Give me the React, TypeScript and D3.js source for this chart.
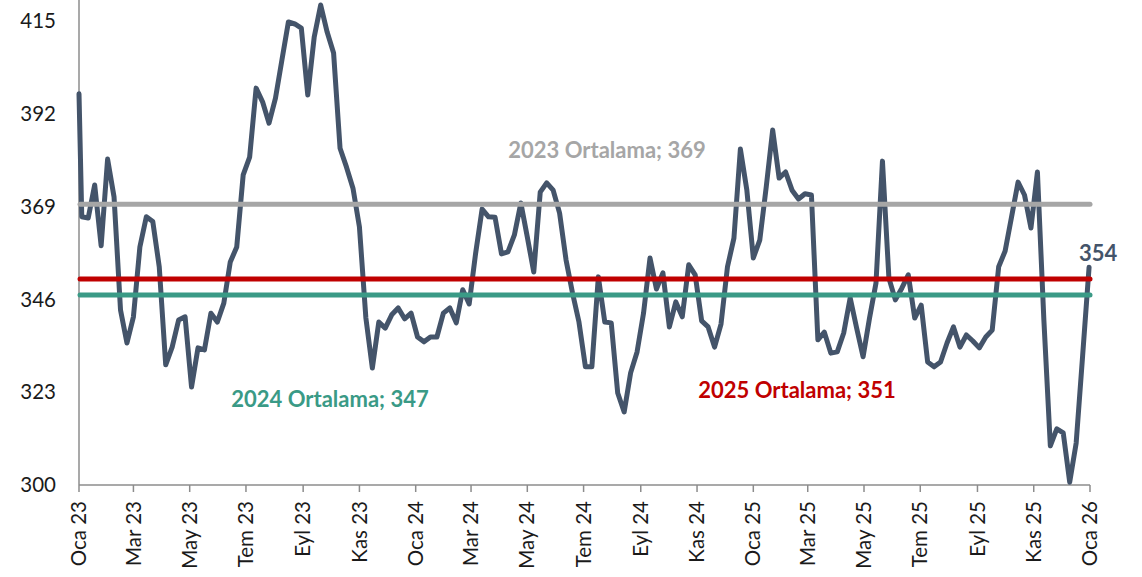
import React, { useEffect, useRef } from "react";
import * as d3 from "d3";

// weekly series
const values = [
  397, 366.5, 366.2, 374.4, 359.3, 380.8, 371.4, 343.4, 335.2, 341.7,
  359.0, 366.5, 365.3, 354.1, 329.8, 334.2, 340.9, 341.7, 324.3, 334.0,
  333.5, 342.6, 340.4, 345.1, 355.3, 359.0, 376.9, 381.3, 398.4, 395.0,
  389.7, 395.9, 405.4, 414.8, 414.3, 413.3, 396.7, 411.1, 419.0, 412.3,
  407.1, 383.5, 378.8, 373.6, 364.0, 341.4, 329.0, 340.4, 338.9, 342.2,
  343.9, 341.2, 342.6, 336.7, 335.5, 336.7, 336.7, 342.6, 343.9, 340.2,
  348.4, 344.9, 357.5, 368.4, 366.5, 366.4, 357.3, 357.8, 362.0, 369.9,
  361.5, 352.8, 372.6, 374.9, 373.1, 367.4, 355.8, 347.6, 340.4, 329.3,
  329.3, 351.6, 340.4, 340.2, 322.8, 318.1, 327.8, 333.0, 342.6, 356.3,
  348.6, 352.6, 339.2, 345.4, 341.7, 354.6, 352.1, 340.7, 339.2, 334.2,
  339.9, 354.1, 361.2, 383.3, 373.1, 356.3, 360.7, 373.9, 388.0, 376.1,
  377.6, 373.1, 370.9, 372.2, 371.9, 336.0, 337.9, 332.7, 333.0, 337.7,
  346.4, 338.9, 331.8, 341.4, 350.1, 380.3, 351.3, 345.9, 348.8, 352.1,
  341.4, 344.6, 330.5, 329.3, 330.5, 335.2, 339.2, 334.2, 337.2, 335.7,
  334.0, 336.7, 338.4, 354.1, 358.0, 366.5, 375.1, 371.9, 363.7, 377.6,
  340.9, 309.7, 313.9, 312.9, 300.7, 310.4, 332.0, 354.0,
];

const firstDate = new Date(2023, 0, 1);
const weeklyStart = new Date(2023, 0, 4);

const avgNames = ["2023 Ortalama; 369", "2025 Ortalama; 351", "2024 Ortalama; 347"];
const avgValues = [369.6, 351.1, 347.1];
const avgColors = ["#A6A6A6", "#C00000", "#3A9A86"];

const yTicks = [300, 323, 346, 369, 392, 415];
const xTickLabels = [
  "Oca 23", "Mar 23", "May 23", "Tem 23", "Eyl 23", "Kas 23",
  "Oca 24", "Mar 24", "May 24", "Tem 24", "Eyl 24", "Kas 24",
  "Oca 25", "Mar 25", "May 25", "Tem 25", "Eyl 25", "Kas 25",
  "Oca 26",
];

const WIDTH = 1142;
const HEIGHT = 577;
const FONT = "Lato, 'Open Sans', sans-serif";

const App = () => {
  const ref = useRef<SVGSVGElement | null>(null);

  useEffect(() => {
    const svg = d3.select(ref.current);
    svg.selectAll("*").remove();

    const dates = values.map((_, i) =>
      i === 0 ? firstDate : d3.timeDay.offset(weeklyStart, 7 * (i - 1))
    );
    const data = values.map((v, i) => ({ date: dates[i], value: v }));

    const x = d3
      .scaleTime()
      .domain([new Date(2023, 0, 1), new Date(2026, 0, 1)])
      .range([79, 1090]);
    const y = d3.scaleLinear().domain([300, 420]).range([485, 1]);

    // axes
    svg
      .append("line")
      .attr("x1", 79)
      .attr("x2", 79)
      .attr("y1", 0)
      .attr("y2", 485)
      .attr("stroke", "#8c8c8c")
      .attr("stroke-width", 1.5);

    svg
      .append("line")
      .attr("x1", 79)
      .attr("x2", 1090)
      .attr("y1", 485)
      .attr("y2", 485)
      .attr("stroke", "#8c8c8c")
      .attr("stroke-width", 1.5);

    svg
      .selectAll(".ylab")
      .data(yTicks)
      .enter()
      .append("text")
      .attr("x", 56)
      .attr("y", (d) => y(d))
      .attr("dy", "0.35em")
      .attr("text-anchor", "end")
      .attr("font-family", FONT)
      .attr("font-size", 20.5)
      .attr("fill", "#1a1a1a")
      .text((d) => d);

    const tickDates = x.ticks(d3.timeMonth.every(2));

    svg
      .selectAll(".xtick")
      .data(tickDates)
      .enter()
      .append("line")
      .attr("x1", (d) => x(d))
      .attr("x2", (d) => x(d))
      .attr("y1", 485)
      .attr("y2", 492)
      .attr("stroke", "#8c8c8c")
      .attr("stroke-width", 1.5);

    svg
      .selectAll(".xlab")
      .data(tickDates)
      .enter()
      .append("text")
      .attr("transform", (d) => `translate(${x(d)}, 501) rotate(-90)`)
      .attr("dy", "0.35em")
      .attr("text-anchor", "end")
      .attr("font-family", FONT)
      .attr("font-size", 20.5)
      .attr("fill", "#1a1a1a")
      .text((_, i) => xTickLabels[i]);

    // main series
    const line = d3
      .line<{ date: Date; value: number }>()
      .x((d) => x(d.date))
      .y((d) => y(d.value));

    svg
      .append("path")
      .datum(data)
      .attr("d", line)
      .attr("fill", "none")
      .attr("stroke", "#44546A")
      .attr("stroke-width", 5)
      .attr("stroke-linejoin", "round")
      .attr("stroke-linecap", "round");

    // yearly averages
    svg
      .selectAll(".avg")
      .data(avgValues)
      .enter()
      .append("line")
      .attr("x1", 80)
      .attr("x2", 1090)
      .attr("y1", (d) => y(d))
      .attr("y2", (d) => y(d))
      .attr("stroke", (_, i) => avgColors[i])
      .attr("stroke-width", 5)
      .attr("stroke-linecap", "round");

    const labelPos = [
      { x: 607, y: 158 },
      { x: 797, y: 398 },
      { x: 330, y: 407 },
    ];

    svg
      .selectAll(".avglab")
      .data(avgNames)
      .enter()
      .append("text")
      .attr("x", (_, i) => labelPos[i].x)
      .attr("y", (_, i) => labelPos[i].y)
      .attr("text-anchor", "middle")
      .attr("font-family", FONT)
      .attr("font-weight", "bold")
      .attr("font-size", 22)
      .attr("fill", (_, i) => avgColors[i])
      .text((d) => d);

    const last = data[data.length - 1];
    svg
      .append("text")
      .attr("x", x(last.date) - 10)
      .attr("y", 261)
      .attr("font-family", FONT)
      .attr("font-weight", "bold")
      .attr("font-size", 22)
      .attr("fill", "#44546A")
      .text(Math.round(last.value));
  }, []);

  return (
    <div style={{ position: "absolute", left: 0, top: 0 }}>
      <svg ref={ref} width={WIDTH} height={HEIGHT} style={{ display: "block" }} />
    </div>
  );
};

export default App;
